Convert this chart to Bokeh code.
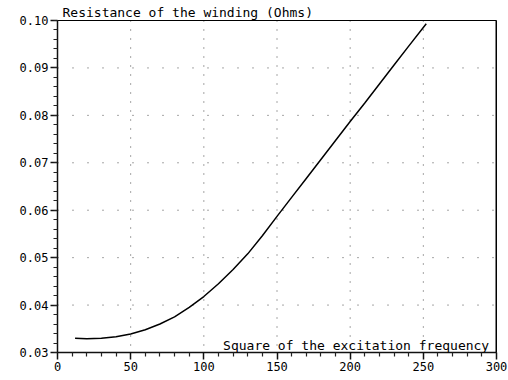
from bokeh.plotting import figure
from bokeh.models import (FixedTicker, PrintfTickFormatter, Label, Range1d, Span,
                          LinearAxis)
from bokeh.embed import file_html
from bokeh.resources import INLINE

# Data
freq_sq = [12, 20, 30, 40, 50, 60, 70, 80, 90, 100, 110, 120, 130, 140, 150,
           160, 170, 180, 190, 200, 210, 220, 230, 240, 252]
resistance = [0.0330, 0.0329, 0.0330, 0.0333, 0.0339, 0.0348, 0.0360, 0.0375,
              0.0395, 0.0418, 0.0445, 0.0475, 0.0508, 0.0546, 0.0587, 0.0627,
              0.0667, 0.0707, 0.0747, 0.0787, 0.0826, 0.0866, 0.0906, 0.0946,
              0.0993]

x_ticks = [0, 50, 100, 150, 200, 250, 300]
y_ticks = [0.03, 0.04, 0.05, 0.06, 0.07, 0.08, 0.09, 0.10]
title_text = "Resistance of the winding (Ohms)"
xlabel_text = "Square of the excitation frequency"

FONT = "DejaVu Sans Mono"

p = figure(width=508, height=380, output_backend="svg", toolbar_location=None,
           x_range=Range1d(0, 300), y_range=Range1d(0.03, 0.10),
           x_axis_type=None, y_axis_type=None,
           min_border_left=57, min_border_right=12, min_border_top=20,
           min_border_bottom=28)
p.background_fill_color = "white"
p.border_fill_color = "white"
p.outline_line_color = "black"
p.outline_line_width = 1

p.title.text = title_text
p.title.align = "left"
p.title.offset = 5
p.title.standoff = 1
p.title.text_font = FONT
p.title.text_font_size = "13px"
p.title.text_font_style = "normal"
p.title.text_color = "black"

x_minor = [v for v in range(0, 301, 10) if v % 50 != 0]
y_minor = [round(0.03 + 0.002 * i, 4) for i in range(36)]

xaxis = LinearAxis(ticker=FixedTicker(ticks=x_ticks, minor_ticks=x_minor))
yaxis = LinearAxis(ticker=FixedTicker(ticks=y_ticks, minor_ticks=y_minor),
                   formatter=PrintfTickFormatter(format="%.2f"))

for ax in (xaxis, yaxis):
    ax.axis_line_color = "#111111"
    ax.axis_line_width = 1.5
    ax.major_tick_line_color = "#111111"
    ax.minor_tick_line_color = "#222222"
    ax.major_tick_line_width = 1.5
    ax.minor_tick_line_width = 1.2
    ax.major_tick_in = 0
    ax.minor_tick_in = 0
    ax.major_tick_out = 7
    ax.minor_tick_out = 4
    ax.major_label_text_font = FONT
    ax.major_label_text_font_size = "12px"
    ax.major_label_text_color = "black"
    ax.major_label_standoff = 2

p.add_layout(xaxis, "below")
p.add_layout(yaxis, "left")

# dotted grid lines at the major tick values
for t in x_ticks[1:-1]:
    p.add_layout(Span(location=t, dimension="height", line_color="black",
                      line_dash="1 8", line_alpha=0.7, line_width=1))
for t in y_ticks[1:-1]:
    p.add_layout(Span(location=t, dimension="width", line_color="black",
                      line_dash="1 14", line_alpha=0.7, line_width=1))

p.line(freq_sq, resistance, line_color="black", line_width=1.5)

p.add_layout(Span(location=300, dimension="height", line_color="black", line_width=2))

p.add_layout(Label(x=295, y=0.03, text=xlabel_text, text_font=FONT,
                   text_font_size="13px", text_align="right",
                   text_baseline="alphabetic", y_offset=7, text_color="black"))

open("out.html", "w").write(file_html(p, INLINE))
